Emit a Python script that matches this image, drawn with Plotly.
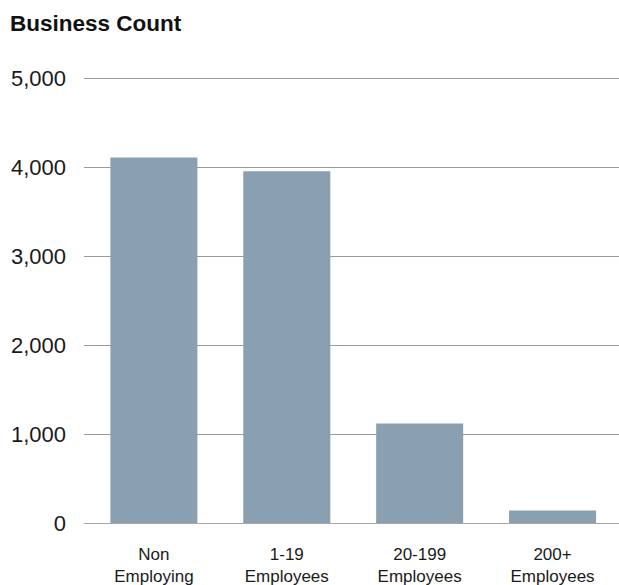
import plotly.graph_objects as go

categories = ["Non<br>Employing", "1-19<br>Employees", "20-199<br>Employees", "200+<br>Employees"]
business_count = [4115, 3960, 1120, 140]
y_tick_values = [0, 1000, 2000, 3000, 4000, 5000]
y_tick_labels = ["0", "1,000", "2,000", "3,000", "4,000", "5,000"]

W, H = 619, 585

fig = go.Figure()
fig.add_trace(go.Bar(
    x=list(range(len(categories))),
    y=business_count,
    marker=dict(color="#8A9FAF", line=dict(width=0)),
    width=0.655,
    hoverinfo="skip",
))

fig.update_layout(
    width=W, height=H,
    margin=dict(l=84, r=0, t=77, b=62, autoexpand=False),
    paper_bgcolor="white", plot_bgcolor="white",
    font=dict(family="Liberation Sans, Arial, sans-serif", color="#1a1a1a"),
    showlegend=False,
    title=dict(
        text="<b>Business Count</b>",
        xref="container", yref="container",
        x=10/W, y=1-23/H, xanchor="left", yanchor="middle",
        font=dict(size=22.5, color="#111111"),
    ),
    xaxis=dict(
        range=[-0.526, 3.5],
        tickmode="array",
        tickvals=list(range(len(categories))),
        ticktext=categories,
        tickfont=dict(size=17, color="#1a1a1a"),
        showgrid=False, zeroline=False, showline=False,
        ticks="", ticklabelstandoff=19,
    ),
    yaxis=dict(
        range=[0, 5020],
        tickmode="array",
        tickvals=y_tick_values,
        ticktext=y_tick_labels,
        tickfont=dict(size=22, color="#1a1a1a"),
        showgrid=True, gridcolor="#9a9a9a", gridwidth=1,
        zeroline=True, zerolinecolor="#a8a8a8", zerolinewidth=1,
        showline=False, ticks="", ticklabelstandoff=17,
    ),
)

fig.write_html(
    "out.html",
    config={"displayModeBar": False},
    post_script="document.body.style.margin='0';document.documentElement.style.overflow='hidden';",
)
